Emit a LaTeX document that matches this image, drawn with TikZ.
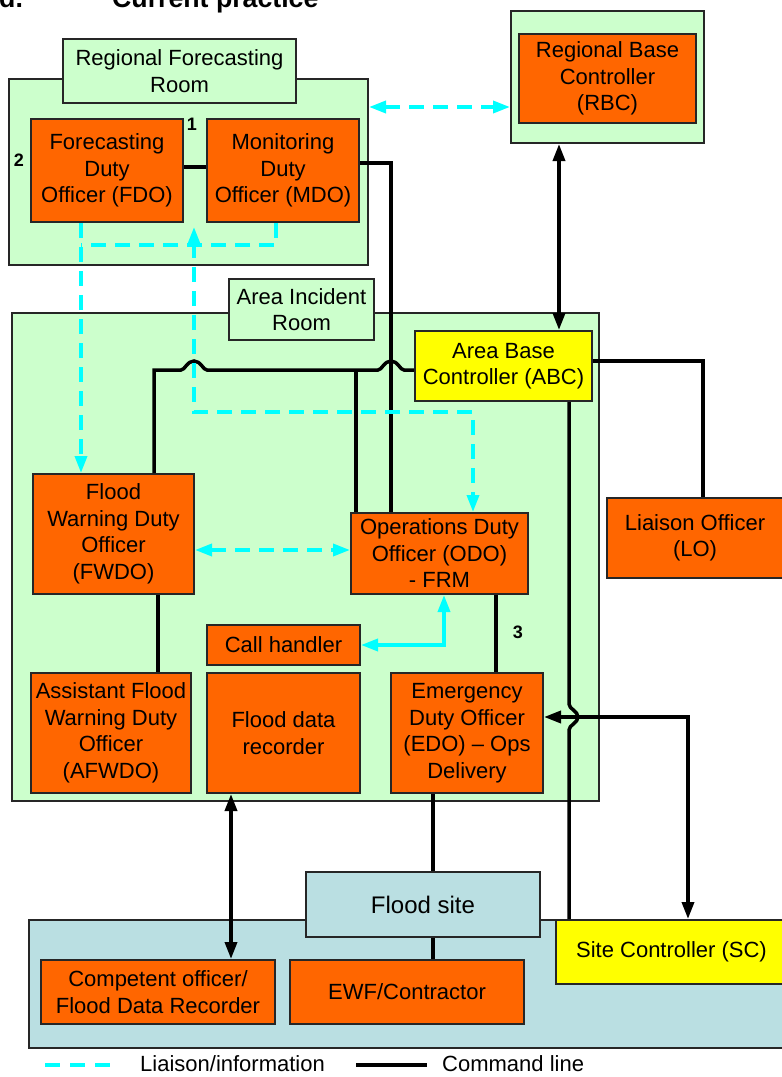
\documentclass[tikz,border=0pt]{standalone}
\usepackage{fontspec}
\setmainfont{Liberation Sans}
\usetikzlibrary{arrows.meta}

\definecolor{roomgreen}{HTML}{CCFFCC}
\definecolor{staffor}{HTML}{FF6600}
\definecolor{ctrlyel}{HTML}{FFFF00}
\definecolor{sitegrey}{HTML}{BADFE2}
\definecolor{infocyan}{HTML}{00FFFF}

\newcommand\boxfont{\fontsize{22}{26.5}\selectfont}
\newcommand\numfont{\bfseries\fontsize{18}{20}\selectfont}

\tikzset{
  room/.style={draw=black!85, line width=2pt, fill=roomgreen, inner sep=0pt},
  roomlabel/.style={room, align=center, font=\boxfont},
  staff/.style={draw=black!85, line width=2pt, fill=staffor, inner sep=0pt,
    align=center, font=\boxfont},
  ctrl/.style={staff, fill=ctrlyel},
  site/.style={draw=black!85, line width=2pt, fill=sitegrey, inner sep=0pt},
  cmd/.style={line width=3.5pt, >={Triangle[length=17pt,width=12pt]}},
  liaison/.style={infocyan, line width=3.5pt, dash pattern=on 15pt off 9pt,
    >={Triangle[length=17pt,width=12pt]}},
  infoline/.style={infocyan, line width=3.5pt,
    >={Triangle[length=17pt,width=12pt]}},
}

\begin{document}
\begin{tikzpicture}[x=1pt,y=-1pt]
\clip (0,0) rectangle (782,1077);

% title (cut at the top edge)
\node[anchor=base west, inner sep=0pt, font=\bfseries\fontsize{26.7}{30}\selectfont] (tnum) at (-1,7) {d.};
\node[anchor=base west, inner sep=0pt, font=\bfseries\fontsize{26.7}{30}\selectfont] (ttl) at (112,7) {Current practice};

% rooms
\node[room, minimum width=359pt, minimum height=186pt] (rfr) at (188.5,172) {};
\node[roomlabel, minimum width=233pt, minimum height=64pt] (rfrlabel) at (179.5,71) {Regional Forecasting\\Room};
\node[room, minimum width=193pt, minimum height=132pt] (rbcroom) at (607.5,77) {};
\node[room, minimum width=587pt, minimum height=488pt] (air) at (305.5,557) {};
\node[roomlabel, minimum width=145pt, minimum height=61pt] (airlabel) at (301.5,309.5) {Area Incident\\Room};
\node[site, minimum width=770pt, minimum height=128pt] (siteroom) at (414,984) {};
\node[site, minimum width=234pt, minimum height=65pt, font=\fontsize{24}{28}\selectfont] (sitelabel) at (423,904.5) {Flood site};

% staff
\node[staff, minimum width=152pt, minimum height=103pt] (fdo) at (107,170.5) {Forecasting\\Duty\\Officer (FDO)};
\node[staff, minimum width=152pt, minimum height=103pt] (mdo) at (283,170.5) {Monitoring\\Duty\\Officer (MDO)};
\node[staff, minimum width=177pt, minimum height=89pt] (rbc) at (607.5,78.5) {Regional Base\\Controller\\(RBC)};
\node[ctrl, minimum width=177pt, minimum height=70pt] (abc) at (503.5,366) {Area Base\\Controller (ABC)};
\node[staff, minimum width=161pt, minimum height=120pt] (fwdo) at (113.5,534) {Flood\\Warning Duty\\Officer\\(FWDO)};
\node[staff, minimum width=177pt, minimum height=81pt] (odo) at (439.5,553.5) {Operations Duty\\Officer (ODO)\\- FRM};
\node[staff, minimum width=176pt, minimum height=80pt] (lo) at (695,538) {Liaison Officer\\(LO)};
\node[staff, minimum width=153pt, minimum height=40pt] (callh) at (283.5,645) {Call handler};
\node[staff, minimum width=160pt, minimum height=120pt] (afwdo) at (111,733) {Assistant Flood\\Warning Duty\\Officer\\(AFWDO)};
\node[staff, minimum width=153pt, minimum height=120pt] (fdr) at (283.5,733) {Flood data\\recorder};
\node[staff, minimum width=152pt, minimum height=120pt] (edo) at (467,733) {Emergency\\Duty Officer\\(EDO) -- Ops\\Delivery};
\node[staff, minimum width=234pt, minimum height=64pt] (comp) at (158,992) {Competent officer/\\Flood Data Recorder};
\node[staff, minimum width=234pt, minimum height=64pt] (ewf) at (407,992) {EWF/Contractor};
\node[ctrl, minimum width=231pt, minimum height=64pt] (sc) at (671.5,952) {Site Controller (SC)};

\node[font=\numfont, inner sep=0pt] (one) at (192,124) {1};
\node[font=\numfont, inner sep=0pt] (two) at (19,160) {2};
\node[font=\numfont, inner sep=0pt] (three) at (518,632) {3};

% command lines
\draw[cmd] ([yshift=3.5pt]fdo.east) -- ([yshift=3.5pt]mdo.west);
\draw[cmd] ([yshift=7.5pt]mdo.east) -| ([xshift=-48.5pt]odo.north);
\coordinate (jn) at (356,370);
\draw[cmd] ([yshift=-4pt]abc.west) -- (404,370)
  .. controls (400,370) and (398,361) .. (391,361)
  .. controls (384,361) and (382,370) .. (378,370) -- (207,370)
  .. controls (203,370) and (201,361) .. (194,361)
  .. controls (187,361) and (185,370) .. (181,370) -| ([xshift=40.5pt]fwdo.north);
\draw[cmd] (jn) -- (jn |- odo.north);
\draw[cmd,<->] ([xshift=-48.5pt]rbcroom.south) -- ([xshift=-48.5pt]rbcroom.south |- abc.north);
\draw[cmd] ([yshift=5pt]abc.east) -| ([xshift=8pt]lo.north);
\draw[cmd] ([xshift=65.5pt]abc.south) -- (569,704)
  .. controls (569,709) and (578,711) .. (578,717)
  .. controls (578,723) and (569,725) .. (569,730) -- ([xshift=-102.5pt]sc.north);
\draw[cmd,<->] ([xshift=16.5pt]sc.north) |- ([yshift=16pt]edo.east);
\draw[cmd] ([xshift=44.5pt]fwdo.south) -- ([xshift=44.5pt]fwdo.south |- afwdo.north);
\draw[cmd] ([xshift=56.5pt]odo.south) -- ([xshift=56.5pt]odo.south |- edo.north);
\draw[cmd] ([xshift=-34pt]edo.south) -- ([xshift=-34pt]edo.south |- sitelabel.north);
\draw[cmd] ([xshift=10pt]sitelabel.south) -- ([xshift=10pt]sitelabel.south |- ewf.north);
\draw[cmd,<->] ([xshift=-52.5pt]fdr.south) -- ([xshift=-52.5pt]fdr.south |- comp.north);

% liaison lines
\draw[liaison,<->] ([yshift=65pt]rfr.east) -- ([yshift=65pt]rfr.east -| rbcroom.west);
\draw[liaison,->] ([xshift=-26pt]fdo.south) -- ([xshift=-26pt]fdo.south |- fwdo.north);
\coordinate (lk) at (81,245);
\draw[liaison] ([xshift=-7pt]mdo.south) |- (lk);
\coordinate (mdotip) at (194,227);
\coordinate (bend) at (194,412);
\draw[liaison,<->] (mdotip) -- (bend) -| ([xshift=33.5pt]odo.north);
\draw[liaison,<->] ([yshift=-16pt]fwdo.east) -- ([yshift=-16pt]fwdo.east -| odo.west);
\draw[infoline,<->] (callh.east) -| ([xshift=4.5pt]odo.south);

% legend
\coordinate (lgA) at (45,1065);
\coordinate (lgB) at (115,1065);
\draw[liaison, dash pattern=on 15pt off 10pt] (lgA) -- (lgB);
\node[anchor=west, inner sep=0pt, font=\boxfont] (lgtxt1) at (140,1064) {Liaison/information};
\coordinate (lgC) at (356,1065);
\coordinate (lgD) at (427,1065);
\draw[cmd, line width=4.5pt] (lgC) -- (lgD);
\node[anchor=west, inner sep=0pt, font=\boxfont] (lgtxt2) at (442,1064) {Command line};
\end{tikzpicture}
\end{document}
